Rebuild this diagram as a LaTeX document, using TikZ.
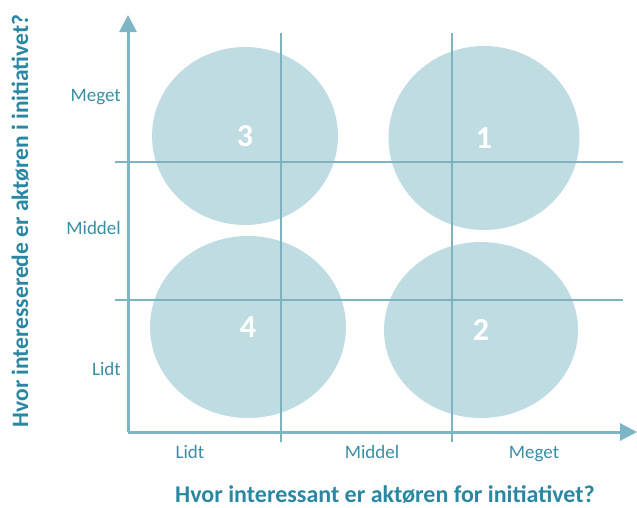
\documentclass[tikz,border=0pt]{standalone}
\usepackage{fontspec}
\setmainfont{Carlito}
\usetikzlibrary{arrows.meta,shapes.geometric,positioning}
\definecolor{bubblefill}{HTML}{C0DCE3}
\definecolor{axiscol}{HTML}{7DB4C6}
\definecolor{gridcol}{HTML}{7FB2C1}
\definecolor{labelcol}{HTML}{3A8DA6}
\definecolor{titlecol}{HTML}{2A87A3}

\begin{document}
\begin{tikzpicture}[x=1pt,y=-1pt,
  bubble/.style={ellipse,fill=bubblefill,inner sep=0pt,text=white,
    font=\fontsize{32}{36}\selectfont\bfseries},
  axis/.style={draw=axiscol,line width=3pt,-{Triangle[length=17pt,width=17pt]}},
  gridline/.style={draw=gridcol,line width=1.4pt},
  level/.style={text=labelcol,font=\fontsize{19}{22}\selectfont,inner sep=0pt},
  question/.style={text=titlecol,font=\fontsize{24}{26}\selectfont\bfseries,inner sep=0pt}]
\useasboundingbox (0,0) rectangle (637,507);
% quadrants
\node[bubble,minimum width=186pt,minimum height=178pt] (q3) at (245,136) {3};
\node[bubble,minimum width=191pt,minimum height=184pt] (q1) at (484,138) {1};
\node[bubble,minimum width=196pt,minimum height=182pt] (q4) at (248,327) {4};
\node[bubble,minimum width=194pt,minimum height=176pt] (q2) at (481,330) {2};
% grid
\coordinate (v1t) at (281,33);  \coordinate (v1b) at (281,442);
\coordinate (v2t) at (452,33);  \coordinate (v2b) at (452,442);
\coordinate (h1l) at (115,162); \coordinate (h1r) at (623,162);
\coordinate (h2l) at (115,300); \coordinate (h2r) at (623,300);
\path[gridline] (v1t) -- (v1b) (v2t) -- (v2b) (h1l) -- (h1r) (h2l) -- (h2r);
% axes
\coordinate (O) at (128,432);
\coordinate (X) at (637,432);
\coordinate (Y) at (128,15);
\path[axis] (O) -- (X);
\path[axis] (O) -- (Y);
% levels
\node[level,anchor=base east] (ymeget) at (121,101.5) {Meget};
\node[level,anchor=base east] (ymiddel) at (121,234.5) {Middel};
\node[level,anchor=base east] (ylidt) at (121,375) {Lidt};
\node[level,anchor=base] (xlidt) at (190,458) {Lidt};
\node[level,anchor=base] (xmiddel) at (372,458) {Middel};
\node[level,anchor=base] (xmeget) at (534,458) {Meget};
% questions
\node[question,anchor=base] (xq) at (385,502) {Hvor interessant er aktøren for initiativet?};
\node[question,anchor=base,rotate=90,font=\fontsize{23.5}{26}\selectfont\bfseries] (yq) at (28,221) {Hvor interesserede er aktøren i initiativet?};
\end{tikzpicture}
\end{document}
